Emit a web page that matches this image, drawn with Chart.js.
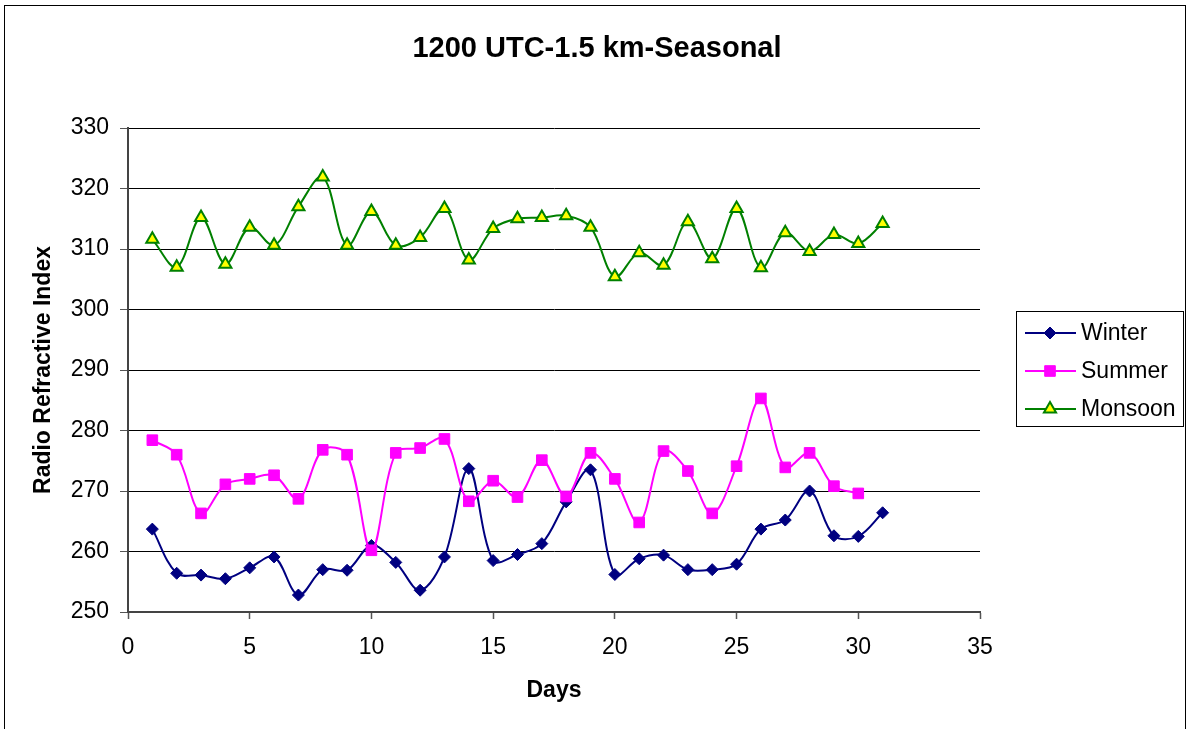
<!DOCTYPE html>
<html>
<head>
<meta charset="utf-8">
<script src="https://cdn.jsdelivr.net/npm/chart.js"></script>
<style>
  body { margin: 0; background: #fff; }
  canvas { display: block; }
</style>
</head>
<body>
<canvas id="myChart" width="1188" height="729"></canvas>
<script>
const days = [1, 2, 3, 4, 5, 6, 7, 8, 9, 10, 11, 12, 13, 14, 15, 16, 17, 18, 19, 20, 21, 22, 23, 24, 25, 26, 27, 28, 29, 30, 31];
const winter = [263.7, 256.4, 256.1, 255.5, 257.3, 259.1, 252.8, 257.0, 256.9, 261.0, 258.2, 253.6, 259.1, 273.7, 258.5, 259.5, 261.3, 268.2, 273.5, 256.2, 258.8, 259.4, 257.0, 257.0, 257.9, 263.7, 265.2, 270.0, 262.6, 262.5, 266.4];
const summer = [278.4, 276.0, 266.3, 271.1, 272.0, 272.6, 268.7, 276.8, 276.0, 260.2, 276.3, 277.1, 278.6, 268.3, 271.7, 269.0, 275.1, 269.1, 276.3, 272.0, 264.8, 276.6, 273.3, 266.3, 274.1, 285.3, 273.9, 276.3, 270.8, 269.6];
const monsoon = [311.6, 307.0, 315.2, 307.5, 313.6, 310.6, 317.0, 321.9, 310.6, 316.2, 310.6, 311.9, 316.7, 308.2, 313.4, 315.0, 315.2, 315.5, 313.6, 305.4, 309.4, 307.3, 314.5, 308.4, 316.7, 306.9, 312.7, 309.6, 312.4, 310.9, 314.2];
const seriesNames = ['Winter', 'Summer', 'Monsoon'];
const yTicks = [250, 260, 270, 280, 290, 300, 310, 320, 330];
const xTicks = [0, 5, 10, 15, 20, 25, 30, 35];

const FONT = "'Liberation Sans', Arial, sans-serif";

function toPoints(values) {
  return values.map((v, i) => ({ x: days[i], y: v }));
}

// marker drawing for the legend, same shapes as the points
function drawMarker(ctx, style, x, y, r, fill, stroke, lw) {
  ctx.save();
  ctx.beginPath();
  if (style === 'rectRot') {
    ctx.moveTo(x - r, y);
    ctx.lineTo(x, y - r);
    ctx.lineTo(x + r, y);
    ctx.lineTo(x, y + r);
  } else if (style === 'rect') {
    const s = r * Math.SQRT1_2;
    ctx.rect(x - s, y - s, 2 * s, 2 * s);
  } else {
    for (let k = 0; k < 3; k++) {
      const a = -Math.PI / 2 + k * 2 * Math.PI / 3;
      const px = x + Math.cos(a) * r, py = y + Math.sin(a) * r;
      if (k === 0) ctx.moveTo(px, py); else ctx.lineTo(px, py);
    }
  }
  ctx.closePath();
  ctx.fillStyle = fill;
  ctx.fill();
  ctx.lineWidth = lw;
  ctx.strokeStyle = stroke;
  ctx.stroke();
  ctx.restore();
}

const decorPlugin = {
  id: 'decor',
  afterDraw(chart) {
    const ctx = chart.ctx;
    ctx.save();
    // outer frame
    ctx.strokeStyle = '#000';
    ctx.lineWidth = 1;
    ctx.strokeRect(4.5, 5.5, 1181, 740);

    // title
    ctx.fillStyle = '#000';
    ctx.font = 'bold 29px ' + FONT;
    ctx.textAlign = 'center';
    ctx.textBaseline = 'middle';
    ctx.fillText('1200 UTC-1.5 km-Seasonal', 597, 49);

    // legend
    ctx.strokeRect(1016.5, 311.5, 167, 115);
    const rows = [333, 371, 409];
    ctx.font = '23px ' + FONT;
    ctx.textAlign = 'left';
    chart.data.datasets.forEach((ds, i) => {
      const y = rows[i];
      ctx.beginPath();
      ctx.moveTo(1025, y);
      ctx.lineTo(1076, y);
      ctx.strokeStyle = ds.borderColor;
      ctx.lineWidth = 2;
      ctx.stroke();
      drawMarker(ctx, ds.pointStyle, 1050, y, ds.pointRadius, ds.pointBackgroundColor, ds.pointBorderColor, ds.pointBorderWidth);
      ctx.fillStyle = '#000';
      ctx.fillText(seriesNames[i], 1081, y + 1);
    });
    ctx.restore();
  }
};

new Chart(document.getElementById('myChart'), {
  type: 'line',
  data: {
    datasets: [
      {
        label: seriesNames[0],
        data: toPoints(winter),
        borderColor: '#000080',
        borderWidth: 2,
        pointStyle: 'rectRot',
        pointRadius: 6,
        pointBackgroundColor: '#000080',
        pointBorderColor: '#000080',
        pointBorderWidth: 1,
        order: 3
      },
      {
        label: seriesNames[1],
        data: toPoints(summer),
        borderColor: '#FF00FF',
        borderWidth: 2,
        pointStyle: 'rect',
        pointRadius: 7.5,
        pointBackgroundColor: '#FF00FF',
        pointBorderColor: '#FF00FF',
        pointBorderWidth: 1,
        order: 2
      },
      {
        label: seriesNames[2],
        data: toPoints(monsoon),
        borderColor: '#008000',
        borderWidth: 2,
        pointStyle: 'triangle',
        pointRadius: 7,
        pointBackgroundColor: '#FFFF00',
        pointBorderColor: '#008000',
        pointBorderWidth: 2,
        order: 1
      }
    ]
  },
  options: {
    responsive: false,
    animation: false,
    layout: { padding: { top: 128, right: 208, left: 0, bottom: 0 } },
    elements: { line: { tension: 0.35, fill: false } },
    plugins: {
      legend: { display: false },
      title: { display: false },
      tooltip: { enabled: false }
    },
    scales: {
      x: {
        type: 'linear',
        min: xTicks[0],
        max: xTicks[xTicks.length - 1],
        afterBuildTicks: (s) => { s.ticks = xTicks.map(v => ({ value: v })); },
        afterFit: (s) => { s.height = 117; s.paddingLeft = 0; s.paddingRight = 0; },
        ticks: { color: '#000', font: { family: FONT, size: 23 }, padding: 15, maxRotation: 0 },
        grid: { drawOnChartArea: false, drawTicks: true, tickLength: 7, tickColor: '#555', tickWidth: 1.5 },
        border: { color: '#444', width: 2 },
        title: {
          display: true,
          text: 'Days',
          color: '#000',
          font: { family: FONT, size: 23, weight: 'bold' },
          padding: { top: 0, bottom: 25 }
        }
      },
      y: {
        min: yTicks[0],
        max: yTicks[yTicks.length - 1],
        afterBuildTicks: (s) => { s.ticks = yTicks.map(v => ({ value: v })); },
        afterFit: (s) => { s.width = 128; s.paddingTop = 0; s.paddingBottom = 0; },
        ticks: { color: '#000', font: { family: FONT, size: 23 }, padding: 11 },
        grid: { color: '#000', lineWidth: 1, drawTicks: true, tickLength: 8, tickColor: '#555' },
        border: { color: '#444', width: 2 },
        title: {
          display: true,
          text: 'Radio Refractive Index',
          color: '#000',
          font: { family: FONT, size: 23, weight: 'bold' },
          padding: { top: 30, bottom: 0 }
        }
      }
    }
  },
  plugins: [decorPlugin]
});
</script>
</body>
</html>
